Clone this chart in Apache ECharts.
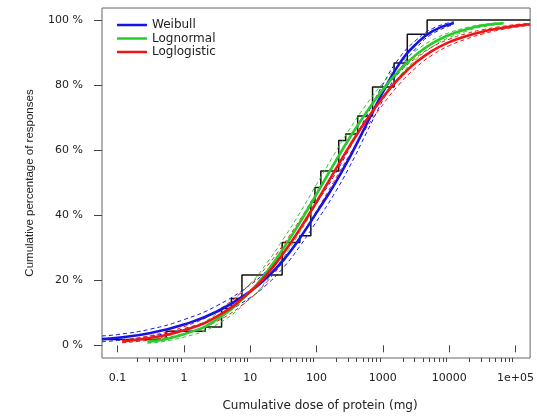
<!DOCTYPE html>
<html><head><meta charset="utf-8">
<script src="https://cdn.jsdelivr.net/npm/echarts@6/dist/echarts.min.js"></script>
<style>html,body{margin:0;padding:0;background:#fff}#c{width:537px;height:417px}</style>
</head><body><div id="c"></div>
<script>
// Axis ticks
const xMajorTicks = [0.1, 1, 10, 100, 1000, 10000, 100000];
const xMajorLabels = ['0.1', '1', '10', '100', '1000', '10000', '1e+05'];
const xMinorTicks = [0.2,0.3,0.4,0.5,0.6,0.7,0.8,0.9, 2,3,4,5,6,7,8,9, 20,30,40,50,60,70,80,90,
  200,300,400,500,600,700,800,900, 2000,3000,4000,5000,6000,7000,8000,9000,
  20000,30000,40000,50000,60000,70000,80000,90000];
const yTicks = [0, 20, 40, 60, 80, 100];

// Empirical cumulative distribution (step)
const stepDose = [0.0582, 0.54, 2.1, 3.7, 5.2, 7.5, 30.3, 56, 82, 94.6, 116, 216, 275, 417, 699, 1476, 2335, 4650, 166000];
const stepPct  = [1.8, 4.3, 5.6, 11.3, 14.4, 21.6, 31.6, 33.7, 44, 48.5, 53.6, 63, 65, 70.5, 79.4, 86.8, 95.6, 100, 100];

// Weibull fit
const weiDose = [0.0582, 0.1, 0.316, 1, 3.16, 10, 17.8, 31.6, 56.2, 100, 178, 316, 562, 1000, 1778, 3162, 5623, 11750];
const weiPct  = [1.9, 2.3, 3.8, 6.4, 10.4, 16.6, 20.8, 26.2, 33.0, 40.8, 48.8, 57.8, 67.8, 77.8, 86.6, 92.6, 96.6, 99.1];
const weiHi   = [2.9, 3.3, 5.0, 7.9, 12.2, 18.6, 23.0, 28.6, 35.6, 43.6, 51.6, 60.6, 70.4, 80.2, 88.4, 93.8, 97.4, 99.5];
const weiLo   = [1.1, 1.5, 2.8, 5.1, 8.8, 14.7, 18.7, 23.9, 30.5, 38.1, 46.0, 55.0, 65.2, 75.4, 84.6, 91.3, 95.8, 98.6];

// Lognormal fit
const lnDose = [0.282, 1, 3.16, 10, 17.8, 31.6, 56.2, 100, 178, 316, 562, 1000, 1778, 3162, 5623, 10000, 17780, 31620, 66000];
const lnPct  = [1.0, 3.4, 8.0, 16.6, 22.6, 29.8, 37.8, 46.5, 55.3, 63.8, 71.6, 78.6, 84.6, 89.3, 92.9, 95.4, 97.1, 98.3, 99.0];
const lnHi   = [1.5, 4.5, 9.8, 19.0, 25.3, 32.7, 40.8, 49.5, 58.2, 66.5, 74.0, 80.6, 86.3, 90.6, 93.9, 96.1, 97.6, 98.6, 99.3];
const lnLo   = [0.6, 2.5, 6.4, 14.4, 20.0, 27.0, 34.8, 43.5, 52.4, 61.1, 69.2, 76.5, 82.8, 87.9, 91.8, 94.6, 96.5, 97.9, 98.7];

// Loglogistic fit
const llDose = [0.117, 0.316, 1, 3.16, 10, 17.8, 31.6, 56.2, 100, 178, 316, 562, 1000, 1778, 3162, 5623, 10000, 17780, 31620, 56230, 100000, 166000];
const llPct  = [1.2, 2.3, 4.6, 8.9, 16.5, 21.8, 28.3, 35.8, 44.1, 52.8, 61.3, 69.2, 76.2, 82.2, 87.0, 90.6, 93.2, 95.0, 96.4, 97.4, 98.2, 98.7];
const llHi   = [1.6, 3.0, 5.7, 10.6, 18.8, 24.3, 31.0, 38.6, 47.0, 55.6, 63.9, 71.5, 78.2, 83.9, 88.4, 91.8, 94.1, 95.8, 97.0, 97.9, 98.6, 99.0];
const llLo   = [0.8, 1.7, 3.6, 7.4, 14.4, 19.5, 25.8, 33.1, 41.3, 50.0, 58.6, 66.8, 74.0, 80.3, 85.4, 89.3, 92.1, 94.1, 95.7, 96.9, 97.8, 98.3];

const BLUE = '#1414E6', GREEN = '#28CC28', RED = '#F01414';
const FONT = 'DejaVu Sans';

function pairs(xs, ys) { return xs.map((x, i) => [x, ys[i]]); }
function curve(name, xs, ys, color, width, dashed) {
  return {
    name: name, type: 'line', data: pairs(xs, ys), showSymbol: false, symbol: 'none',
    smooth: 0.5, silent: true,
    itemStyle: { color: color },
    lineStyle: { color: color, width: width, type: dashed ? [4, 3] : 'solid' }
  };
}

const chart = echarts.init(document.getElementById('c'), null, { renderer: 'canvas' });
const axisCommon = { type: 'log', logBase: 10, min: 0.0582, max: 166000, splitLine: { show: false } };
chart.setOption({
  animation: false,
  backgroundColor: '#fff',
  grid: { left: 102, right: 3, top: 8, bottom: 55, show: true, borderColor: '#666', borderWidth: 1 },
  legend: {
    data: [{ name: 'Weibull' }, { name: 'Lognormal' }, { name: 'Loglogistic' }],
    orient: 'vertical', left: 112, top: 14, icon: 'rect', itemWidth: 30, itemHeight: 2.5, itemGap: 1.5,
    selectedMode: false,
    textStyle: { fontFamily: FONT, fontSize: 12, lineHeight: 12, color: '#222' }
  },
  xAxis: [
    Object.assign({}, axisCommon, {
      position: 'bottom',
      axisLine: { show: false },
      axisTick: { show: true, customValues: xMajorTicks, length: 7, lineStyle: { color: '#444' } },
      axisLabel: {
        show: true, customValues: xMajorTicks, margin: 15, fontFamily: FONT, fontSize: 11, color: '#222',
        formatter: function (v) { const i = Math.round(Math.log10(v)) + 1; return xMajorLabels[i]; }
      },
      name: 'Cumulative dose of protein (mg)', nameLocation: 'middle', nameGap: 42,
      nameTextStyle: { fontFamily: FONT, fontSize: 12, color: '#222', padding: [0, 0, 0, 8] }
    }),
    Object.assign({}, axisCommon, {
      position: 'bottom',
      axisLine: { show: false },
      axisTick: { show: true, customValues: xMinorTicks, length: 4, lineStyle: { color: '#444' } },
      axisLabel: { show: false }
    })
  ],
  yAxis: {
    type: 'value', min: -3.9, max: 103.7,
    axisLine: { show: false }, splitLine: { show: false },
    axisTick: { show: true, customValues: yTicks, length: 8, lineStyle: { color: '#444' } },
    axisLabel: { customValues: yTicks, margin: 19, fontFamily: FONT, fontSize: 11, color: '#222',
      formatter: function (v) { return v + ' %'; } },
    name: 'Cumulative percentage of responses', nameLocation: 'middle', nameGap: 66,
    nameTextStyle: { fontFamily: 'Liberation Sans', fontSize: 11.5, color: '#222' }
  },
  series: [
    { name: 'ECDF', type: 'line', step: 'end', data: pairs(stepDose, stepPct), showSymbol: false, symbol: 'none',
      silent: true, itemStyle: { color: '#111' }, lineStyle: { color: '#111', width: 1.5 } },
    curve('Weibull upper', weiDose, weiHi, BLUE, 1, true),
    curve('Weibull lower', weiDose, weiLo, BLUE, 1, true),
    curve('Lognormal upper', lnDose, lnHi, GREEN, 1, true),
    curve('Lognormal lower', lnDose, lnLo, GREEN, 1, true),
    curve('Loglogistic upper', llDose, llHi, RED, 1, true),
    curve('Loglogistic lower', llDose, llLo, RED, 1, true),
    curve('Weibull', weiDose, weiPct, BLUE, 2.6, false),
    curve('Lognormal', lnDose, lnPct, GREEN, 2.6, false),
    curve('Loglogistic', llDose, llPct, RED, 2.6, false)
  ]
});
</script>
</body></html>
